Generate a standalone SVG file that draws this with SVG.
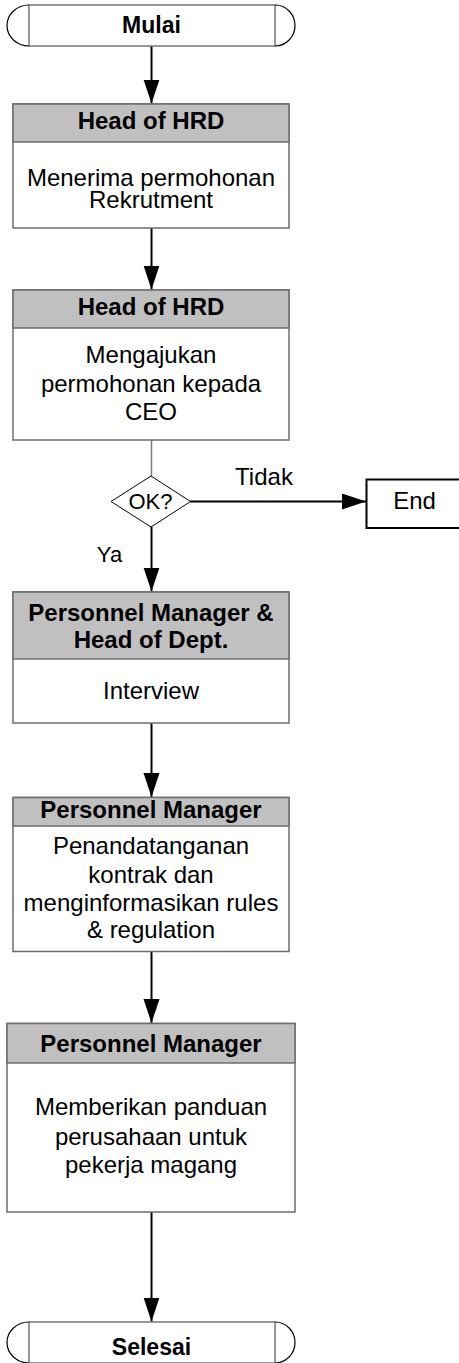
<svg xmlns="http://www.w3.org/2000/svg" width="459" height="1363" viewBox="0 0 459 1363">
  <style>
    .box { fill: #ffffff; stroke: #6e6e6e; stroke-width: 1.5; }
    .head { fill: #c0c0c0; stroke: #6e6e6e; stroke-width: 1.5; }
    .term { fill: #ffffff; stroke: #777777; stroke-width: 1.5; }
    .cap { fill: none; stroke: #000000; stroke-width: 1.2; }
    .conn { fill: none; stroke: #000000; stroke-width: 2; }
    .thin { fill: none; stroke: #7a7a7a; stroke-width: 1.5; }
    text { font-family: "Liberation Sans", Arial, sans-serif; fill: #000000; text-anchor: middle; }
    .t { font-size: 24px; }
    .b { font-size: 24px; font-weight: bold; }
  </style>
  <defs>
    <marker id="arrow" markerUnits="userSpaceOnUse" markerWidth="26" markerHeight="18" refX="24" refY="8" orient="auto">
      <path d="M0,0 L24,8 L0,16 Z" fill="#000000"/>
    </marker>
  </defs>

  <!-- connectors -->
  <g id="connectors">
    <line class="conn" x1="151.5" y1="46" x2="151.5" y2="103.5" marker-end="url(#arrow)"/>
    <line class="conn" x1="151.5" y1="228" x2="151.5" y2="289.5" marker-end="url(#arrow)"/>
    <line class="thin" x1="151.5" y1="440" x2="151.5" y2="476"/>
    <line class="conn" x1="190" y1="501.5" x2="366" y2="501.5" marker-end="url(#arrow)"/>
    <line class="conn" x1="151.5" y1="527" x2="151.5" y2="591.5" marker-end="url(#arrow)"/>
    <line class="conn" x1="151.5" y1="723" x2="151.5" y2="797" marker-end="url(#arrow)"/>
    <line class="conn" x1="151.5" y1="951.5" x2="151.5" y2="1023" marker-end="url(#arrow)"/>
    <line class="conn" x1="151.5" y1="1212" x2="151.5" y2="1321.5" marker-end="url(#arrow)"/>
    <text class="t" x="264" y="485">Tidak</text>
    <text class="t" x="109.5" y="562" style="font-size:22px">Ya</text>
  </g>

  <!-- start terminator -->
  <g id="start">
    <rect class="term" x="29" y="5" width="246" height="41"/>
    <path class="cap" d="M29,5 A22,20.5 0 0 0 29,46"/>
    <path class="cap" d="M275,5 A20,20.5 0 0 1 275,46"/>
    <text class="b" x="151.5" y="33" style="font-size:23px">Mulai</text>
  </g>

  <!-- step 1 -->
  <g id="step1">
    <rect class="box" x="13" y="104" width="276" height="124"/>
    <rect class="head" x="13" y="104" width="276" height="38"/>
    <text class="b" x="151" y="128.5">Head of HRD</text>
    <text class="t" x="151" y="186">Menerima permohonan</text>
    <text class="t" x="151" y="208">Rekrutment</text>
  </g>

  <!-- step 2 -->
  <g id="step2">
    <rect class="box" x="13" y="290" width="276" height="150"/>
    <rect class="head" x="13" y="290" width="276" height="38"/>
    <text class="b" x="151" y="315">Head of HRD</text>
    <text class="t" x="151" y="363">Mengajukan</text>
    <text class="t" x="151" y="391.5">permohonan kepada</text>
    <text class="t" x="151" y="420">CEO</text>
  </g>

  <!-- decision -->
  <g id="decision">
    <polygon points="151,476 190.5,501.5 151,527 111,501.5" fill="#ffffff" stroke="#000000" stroke-width="1"/>
    <text x="150.5" y="509" style="font-size:22px">OK?</text>
  </g>

  <!-- end box -->
  <g id="end">
    <rect x="366.5" y="479.5" width="95" height="48.5" fill="#ffffff" stroke="#000000" stroke-width="2"/>
    <text class="t" x="414.5" y="508.5">End</text>
  </g>

  <!-- step 3 -->
  <g id="step3">
    <rect class="box" x="13" y="592" width="276" height="131"/>
    <rect class="head" x="13" y="592" width="276" height="67"/>
    <text class="b" x="151" y="621">Personnel Manager &amp;</text>
    <text class="b" x="151" y="648">Head of Dept.</text>
    <text class="t" x="151" y="699">Interview</text>
  </g>

  <!-- step 4 -->
  <g id="step4">
    <rect class="box" x="13" y="797.5" width="276" height="154"/>
    <rect class="head" x="13" y="797.5" width="276" height="28.5"/>
    <text class="b" x="151" y="818">Personnel Manager</text>
    <text class="t" x="151" y="854">Penandatanganan</text>
    <text class="t" x="151" y="882.5">kontrak dan</text>
    <text class="t" x="151" y="910.5">menginformasikan rules</text>
    <text class="t" x="151" y="938">&amp; regulation</text>
  </g>

  <!-- step 5 -->
  <g id="step5">
    <rect class="box" x="7" y="1023.5" width="288" height="188.5"/>
    <rect class="head" x="7" y="1023.5" width="288" height="39.5"/>
    <text class="b" x="151" y="1052">Personnel Manager</text>
    <text class="t" x="151" y="1115">Memberikan panduan</text>
    <text class="t" x="151" y="1144.5">perusahaan untuk</text>
    <text class="t" x="151" y="1173">pekerja magang</text>
  </g>

  <!-- finish terminator -->
  <g id="finish">
    <rect class="term" x="29" y="1322" width="246" height="41"/>
    <path class="cap" d="M29,1322 A22,20.5 0 0 0 29,1363"/>
    <path class="cap" d="M275,1322 A20,20.5 0 0 1 275,1363"/>
    <text class="b" x="151.5" y="1355" style="font-size:23px">Selesai</text>
  </g>
</svg>
